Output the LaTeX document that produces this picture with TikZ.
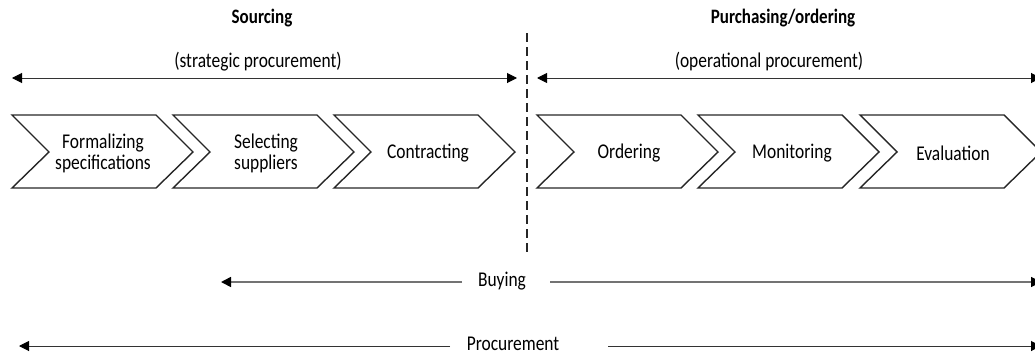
\documentclass[tikz,border=0pt]{standalone}
\usepackage{fontspec}
\setmainfont{Carlito}[FakeStretch=0.83]
\usetikzlibrary{arrows.meta}
\begin{document}
\begin{tikzpicture}[x=1pt,y=-1pt,
  chevron/.style={draw=black!85,line width=1.4pt,line join=miter},
  steptext/.style={align=center,font=\fontsize{21}{21}\selectfont,inner sep=0pt},
  title/.style={font=\fontsize{20.5}{21}\selectfont\bfseries,inner sep=0pt},
  label/.style={font=\fontsize{21}{21}\selectfont,inner sep=0pt},
  tip/.style={-{Triangle[length=10pt,width=10pt,fill=black,color=black]}},
  span/.style={draw=black!80,line width=1pt,tip},
  gspan/.style={draw=black!55,line width=1.6pt,tip},
  divider/.style={draw=black!85,line width=1.4pt,dash pattern=on 9pt off 5pt}]
\useasboundingbox (0,0) rectangle (1035,356);

% chevrons
\foreach \L in {12,173,334,537,698,860}{
  \draw[chevron] (\L,115) -- (\L+144,115) -- (\L+181,152) -- (\L+144,188)
    -- (\L,188) -- (\L+37,152) -- cycle;
}
\node[steptext] (s1) at (103,153) {Formalizing\\specifications};
\node[steptext] (s2) at (266,153) {Selecting\\suppliers};
\node[steptext] (s3) at (428,153) {Contracting};
\node[steptext] (s4) at (629,153) {Ordering};
\node[steptext] (s5) at (792,153) {Monitoring};
\node[steptext] (s6) at (953,153) {Evaluation};

% titles
\node[title] (t1) at (262,18) {Sourcing};
\node[title] (t2) at (783,18) {Purchasing/ordering};
\node[label] (st) at (258,62) {(strategic procurement)};
\node[label] (op) at (769,62) {(operational procurement)};

% divider
\coordinate (dtop) at (527,33);
\coordinate (dbot) at (527,256);
\draw[divider] (dtop) -- (dbot);

% strategic / operational arrows
\coordinate (sl) at (12,78);
\coordinate (sr) at (517,78);
\coordinate (ol) at (537,78);
\coordinate (or) at (1041,78);
\draw[span,{Triangle[length=10pt,width=10pt,fill=black,color=black]}-{Triangle[length=10pt,width=10pt,fill=black,color=black]}] (sl) -- (sr);
\draw[span,{Triangle[length=10pt,width=10pt,fill=black,color=black]}-{Triangle[length=10pt,width=10pt,fill=black,color=black]}] (ol) -- (or);

% buying
\node[label] (buy) at (502,281) {Buying};
\coordinate (bw) at (462,282);
\coordinate (bl) at (221,282);
\coordinate (be) at (550,282);
\coordinate (br) at (1041,282);
\draw[gspan] (bw) -- (bl);
\draw[gspan] (be) -- (br);

% procurement
\node[label] (proc) at (513,344) {Procurement};
\coordinate (pw) at (450,346);
\coordinate (pl) at (19,346);
\coordinate (pe) at (608,346);
\coordinate (pr) at (1041,346);
\draw[span] (pw) -- (pl);
\draw[span] (pe) -- (pr);
\end{tikzpicture}
\end{document}
